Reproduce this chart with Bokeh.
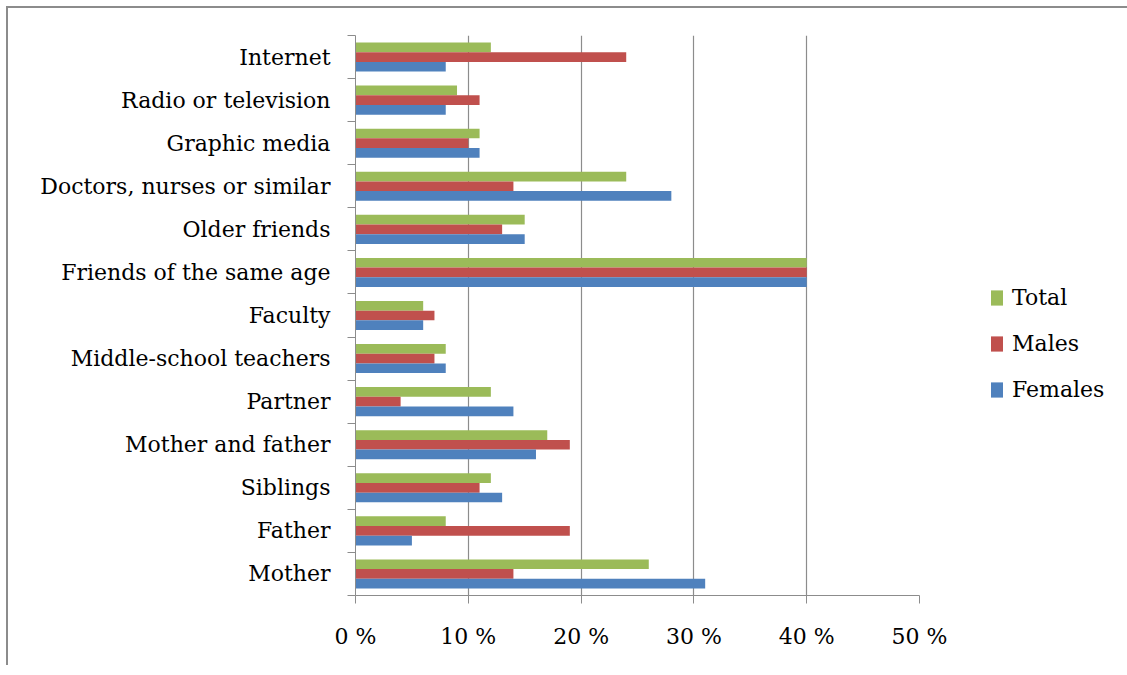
from bokeh.plotting import figure
from bokeh.models import FixedTicker, Legend, LegendItem, ColumnDataSource
from bokeh.embed import file_html
from bokeh.resources import INLINE

categories = ["Mother", "Father", "Siblings", "Mother and father", "Partner",
              "Middle-school teachers", "Faculty", "Friends of the same age",
              "Older friends", "Doctors, nurses or similar", "Graphic media",
              "Radio or television", "Internet"]
females = [31, 5, 13, 16, 14, 8, 6, 40, 15, 28, 11, 8, 8]
males = [14, 19, 11, 19, 4, 7, 7, 40, 13, 14, 10, 11, 24]
total = [26, 8, 12, 17, 12, 8, 6, 40, 15, 24, 11, 9, 12]
x_ticks = [0, 10, 20, 30, 40, 50]
x_tick_labels = ["0 %", "10 %", "20 %", "30 %", "40 %", "50 %"]
series_names = ["Total", "Males", "Females"]
series_colors = ["#9BBB59", "#C0504D", "#4F81BD"]

FONT = "DejaVu Serif"
GRAY = "#8c8c8c"

p = figure(output_backend="svg", toolbar_location=None,
           frame_width=564, frame_height=560,
           x_range=(0, 50), y_range=(0, len(categories)),
           min_border_left=347, min_border_top=27, min_border_right=10,
           min_border_bottom=70)
p.styles = {"border-top": "2px solid #8c8c8c", "border-left": "2px solid #8c8c8c",
            "margin-top": "6px", "margin-left": "6px"}
p.outline_line_color = None
p.background_fill_color = "white"
p.border_fill_color = "white"

bar_h = 0.225
centers = [i + 0.5 for i in range(len(categories))]
src = ColumnDataSource(dict(
    y_t=[c + bar_h for c in centers], y_m=centers, y_f=[c - bar_h for c in centers],
    total=total, males=males, females=females))

r_t = p.hbar(y="y_t", right="total", left=0, height=bar_h, source=src,
             fill_color=series_colors[0], line_color=None)
r_m = p.hbar(y="y_m", right="males", left=0, height=bar_h, source=src,
             fill_color=series_colors[1], line_color=None)
r_f = p.hbar(y="y_f", right="females", left=0, height=bar_h, source=src,
             fill_color=series_colors[2], line_color=None)

# x axis
p.xaxis.ticker = FixedTicker(ticks=x_ticks)
p.xaxis.major_label_overrides = {t: l for t, l in zip(x_ticks, x_tick_labels)}
p.xaxis.major_tick_out = 8
p.xaxis.major_tick_in = 0
p.xaxis.minor_tick_line_color = None
p.xaxis.axis_line_color = GRAY
p.xaxis.major_tick_line_color = GRAY
p.xaxis.major_label_text_font = FONT
p.xaxis.major_label_text_font_size = "22px"
p.xaxis.major_label_text_color = "black"
p.xaxis.major_label_standoff = 20

# y axis: labels at centers, ticks at boundaries (minor)
p.yaxis.ticker = FixedTicker(ticks=centers, minor_ticks=list(range(len(categories) + 1)))
p.yaxis.major_label_overrides = {c: name for c, name in zip(centers, categories)}
p.yaxis.major_tick_line_color = None
p.yaxis.major_tick_out = 0
p.yaxis.major_tick_in = 0
p.yaxis.minor_tick_out = 8
p.yaxis.minor_tick_in = 0
p.yaxis.minor_tick_line_color = GRAY
p.yaxis.axis_line_color = GRAY
p.yaxis.major_label_text_font = FONT
p.yaxis.major_label_text_font_size = "22px"
p.yaxis.major_label_text_color = "black"
p.yaxis.major_label_standoff = 17

p.ygrid.grid_line_color = None
p.xgrid.ticker = FixedTicker(ticks=x_ticks)
p.xgrid.grid_line_color = GRAY
p.xgrid.grid_line_width = 1.2

legend = Legend(items=[LegendItem(label=n, renderers=[r])
                       for n, r in zip(series_names, [r_t, r_m, r_f])],
                location=(70, 193), orientation="vertical",
                border_line_color=None, background_fill_alpha=0,
                padding=0, margin=0, spacing=21,
                glyph_width=15, glyph_height=19, label_standoff=8,
                label_text_font=FONT, label_text_font_size="22px",
                label_text_color="black")
p.add_layout(legend, "right")

open("out.html", "w").write(file_html(p, INLINE))
